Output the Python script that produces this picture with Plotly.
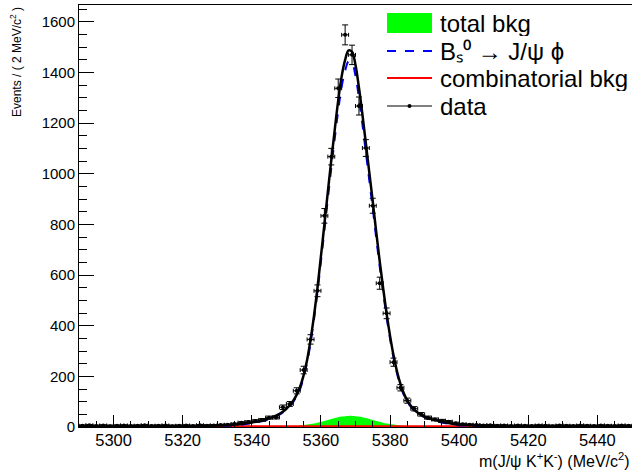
import numpy as np
import plotly.graph_objects as go

# ---------------- data (binned, 2 MeV bins) ----------------
bin_centers = [5291, 5293, 5295, 5297, 5299, 5301, 5303, 5305, 5307, 5309,
               5311, 5313, 5315, 5317, 5319, 5321, 5323, 5325, 5327, 5329,
               5331, 5333, 5335, 5337, 5339, 5341, 5343, 5345, 5347, 5349,
               5351, 5353, 5355, 5357, 5359, 5361, 5363, 5365, 5367, 5369,
               5371, 5373, 5375, 5377, 5379, 5381, 5383, 5385, 5387, 5389,
               5391, 5393, 5395, 5397, 5399, 5401, 5403, 5405, 5407, 5409,
               5411, 5413, 5415, 5417, 5419, 5421, 5423, 5425, 5427, 5429,
               5431, 5433, 5435, 5437, 5439, 5441, 5443, 5445, 5447, 5449]
counts = [5, 7, 4, 6, 3, 5, 6, 4, 5, 7,
          4, 5, 6, 3, 5, 6, 4, 7, 5, 6,
          8, 9, 12, 17, 20, 24, 28, 37, 38, 78,
          91, 143, 225, 346, 538, 834, 1068, 1338, 1549, 1470,
          1268, 1102, 874, 568, 449, 256, 155, 104, 72, 50,
          37, 30, 25, 21, 15, 11, 9, 8, 6, 7,
          5, 6, 4, 6, 5, 4, 6, 5, 3, 6,
          5, 4, 6, 5, 4, 6, 5, 4, 6, 5]
bin_half_width = [1.0] * len(bin_centers)

# ---------------- fit curves ----------------
curve_x = [5290, 5300, 5310, 5320, 5325, 5330, 5333, 5336, 5338, 5340,
           5342, 5344, 5345, 5346, 5347, 5348, 5349, 5350, 5351, 5352,
           5353, 5354, 5355, 5356, 5357, 5358, 5359, 5360, 5361, 5362,
           5363, 5364, 5365, 5366, 5367, 5368, 5369, 5370, 5371, 5372,
           5373, 5374, 5375, 5376, 5377, 5378, 5379, 5380, 5381, 5382,
           5383, 5384, 5385, 5386, 5387, 5388, 5389, 5390, 5392, 5394,
           5396, 5398, 5400, 5405, 5410, 5420, 5430, 5440, 5450]
total_fit = [4.5, 4.5, 4.6, 5.0, 5.5, 6.5, 8, 11, 14, 18,
             23, 29.5, 34, 39, 45, 52, 61, 72, 86, 104,
             128, 160, 205, 265, 345, 440, 550, 675, 800, 930,
             1055, 1175, 1290, 1385, 1450, 1488, 1482, 1430, 1340, 1235,
             1120, 1005, 890, 770, 655, 548, 448, 360, 283, 220,
             170, 132, 104, 84, 68, 57, 48, 41, 31, 24,
             18, 13, 10, 7, 5.5, 5.0, 4.6, 4.5, 4.5]
signal_fit = [1.5, 1.5, 1.6, 2.0, 2.5, 3.5, 5, 8, 11, 15,
              20, 26.5, 31, 36, 42, 48.7, 58, 68.3, 82, 99.4,
              122, 151, 197, 255, 333, 426, 533, 654, 776, 902,
              1023, 1140, 1251, 1344, 1407, 1444, 1438, 1387, 1299, 1196,
              1085, 973, 862, 746, 635, 531, 434, 348, 274, 212,
              163, 126, 99, 80, 64, 53, 45, 38, 28, 21,
              15, 10, 7, 4, 2.5, 2.0, 1.6, 1.5, 1.5]
bkg_total = [3, 3, 3, 3, 3, 3, 3, 3, 3, 3,
             3, 3, 3, 3, 3.1, 3.3, 3.5, 3.7, 4.1, 4.6,
             5.3, 6.4, 7.7, 9.4, 11.6, 14.1, 17.1, 20.4, 24.1, 27.9,
             31.7, 35.3, 38.5, 41.1, 42.9, 43.9, 43.9, 42.9, 41.1, 38.5,
             35.3, 31.7, 27.9, 24.1, 20.4, 17.1, 14.1, 11.6, 9.4, 7.7,
             6.4, 5.4, 4.6, 4.1, 3.7, 3.5, 3.3, 3.1, 3, 3,
             3, 3, 3, 3, 3, 3, 3, 3, 3]
comb_x = [5290, 5370, 5450]
comb_bkg = [3.0, 3.0, 3.0]

legend_labels = ["total bkg",
                 "B\u209b\u2070 \u2192 J/\u03c8 \u03d5",
                 "combinatorial bkg",
                 "data"]

y_err = np.sqrt(np.array(counts, dtype=float))

FONT = "Liberation Sans, Arial, Helvetica, sans-serif"
GREEN, BLUE, RED = "#00ff00", "#0000ff", "#ff0000"

fig = go.Figure()

fig.add_trace(go.Scatter(
    x=curve_x, y=bkg_total, mode="lines", line=dict(color=GREEN, width=0, shape="spline"),
    fill="tozeroy", fillcolor=GREEN, name=legend_labels[0], showlegend=False))
fig.add_trace(go.Scatter(
    x=comb_x, y=comb_bkg, mode="lines", line=dict(color=RED, width=2),
    name=legend_labels[2], showlegend=False))
fig.add_trace(go.Scatter(
    x=curve_x, y=signal_fit, mode="lines",
    line=dict(color=BLUE, width=2, dash="dash", shape="spline"),
    name=legend_labels[1], showlegend=False))
fig.add_trace(go.Scatter(
    x=curve_x, y=total_fit, mode="lines", line=dict(color="black", width=2.5, shape="spline"),
    name="total fit", showlegend=False))
fig.add_trace(go.Scatter(
    x=bin_centers, y=counts, mode="markers",
    marker=dict(color="black", size=4),
    error_y=dict(type="data", array=y_err, color="black", thickness=1, width=3),
    error_x=dict(type="data", array=bin_half_width, color="black", thickness=1, width=2),
    name=legend_labels[3], showlegend=False))

# ---------------- legend (ROOT TLegend style), paper coordinates ----------------
def px_x(p):
    return (p - 79) / 553.0

def px_y(p):
    return (427 - p) / 422.0

key_x0, key_x1 = px_x(387), px_x(432)
text_x = px_x(439)
row_y = [23, 51, 78, 106]

shapes = [
    dict(type="rect", xref="paper", yref="paper", x0=key_x0, x1=key_x1,
         y0=px_y(33), y1=px_y(13), fillcolor=GREEN, line=dict(width=0)),
    dict(type="line", xref="paper", yref="paper", x0=key_x0, x1=key_x1,
         y0=px_y(row_y[1]), y1=px_y(row_y[1]), line=dict(color=BLUE, width=2, dash="dash")),
    dict(type="line", xref="paper", yref="paper", x0=key_x0, x1=key_x1,
         y0=px_y(row_y[2]), y1=px_y(row_y[2]), line=dict(color=RED, width=2)),
    dict(type="line", xref="paper", yref="paper", x0=key_x0, x1=key_x1,
         y0=px_y(row_y[3]), y1=px_y(row_y[3]), line=dict(color="black", width=1)),
    dict(type="circle", xref="paper", yref="paper", x0=px_x(407.5), x1=px_x(411.5),
         y0=px_y(108), y1=px_y(104), fillcolor="black", line=dict(color="black", width=0)),
]

annotations = []
for lbl, ry in zip(legend_labels, row_y):
    annotations.append(dict(text=lbl, xref="paper", yref="paper", x=text_x, y=px_y(ry),
                            xanchor="left", yanchor="middle", valign="middle",
                            height=26, borderpad=0, showarrow=False,
                            font=dict(size=24, family=FONT, color="black")))

annotations.append(dict(text="m(J/\u03c8 K<sup>+</sup>K<sup>-</sup>) (MeV/c<sup>2</sup>)",
                        xref="paper", yref="paper", x=1.0, y=px_y(448),
                        xanchor="right", yanchor="top", showarrow=False,
                        font=dict(size=16, family=FONT, color="black")))
annotations.append(dict(text="Events / ( 2 MeV/c<sup>2</sup> )",
                        xref="paper", yref="paper", x=px_x(16), y=px_y(5),
                        xanchor="center", yanchor="top", textangle=-90, showarrow=False,
                        font=dict(size=12, family=FONT, color="black")))

fig.update_layout(
    width=632, height=470,
    margin=dict(l=79, r=0, t=5, b=43),
    paper_bgcolor="white", plot_bgcolor="white",
    font=dict(family=FONT, color="black"),
    showlegend=False,
    xaxis=dict(range=[5290, 5450], tickmode="array",
               tickvals=[5300, 5320, 5340, 5360, 5380, 5400, 5420, 5440],
               ticks="inside", ticklen=12, tickcolor="black", tickwidth=1,
               ticklabelstandoff=-2,
               minor=dict(dtick=5, ticks="inside", ticklen=6, tickcolor="black"),
               showline=True, linecolor="black", linewidth=1, mirror=True,
               showgrid=False, zeroline=False,
               tickfont=dict(size=16.5, family=FONT, color="black")),
    yaxis=dict(range=[0, 1667], dtick=200, tick0=0,
               ticks="inside", ticklen=15, tickcolor="black", tickwidth=1,
               minor=dict(dtick=50, ticks="inside", ticklen=8, tickcolor="black"),
               showline=True, linecolor="black", linewidth=1, mirror=True,
               showgrid=False, zeroline=False,
               tickfont=dict(size=15, family=FONT, color="black")),
    shapes=shapes,
    annotations=annotations,
)

fig.write_html("out.html")
